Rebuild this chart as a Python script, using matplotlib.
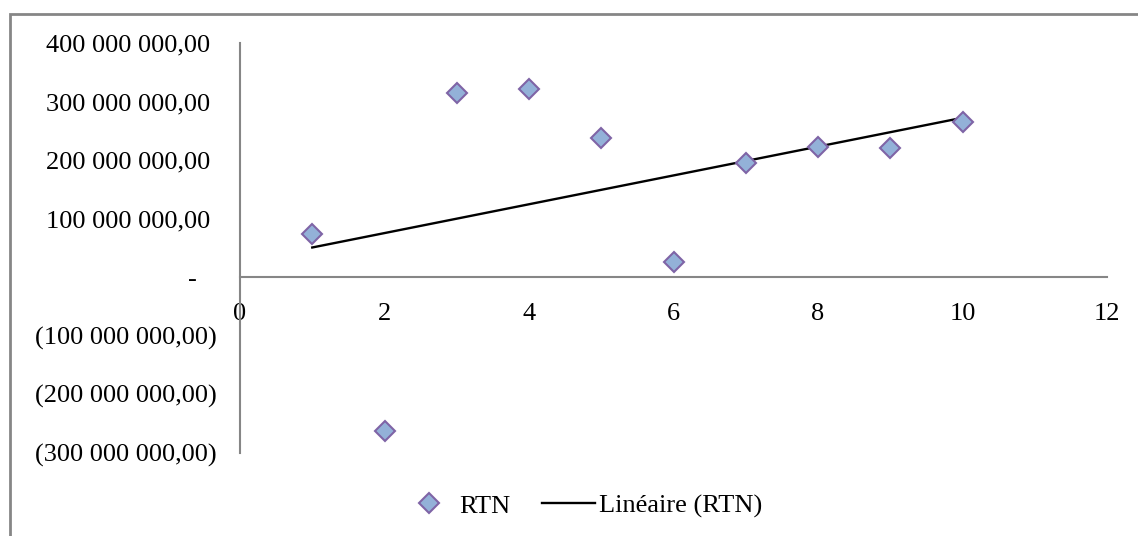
import numpy as np
import matplotlib.pyplot as plt
from matplotlib.patches import Rectangle
from matplotlib.lines import Line2D

plt.rcParams['font.family'] = ['Liberation Serif', 'DejaVu Serif']
plt.rcParams['font.size'] = 19

# RTN per period
periods = [1, 2, 3, 4, 5, 6, 7, 8, 9, 10]
rtn = [73e6, -264e6, 315e6, 322e6, 238e6, 26e6, 195e6, 222e6, 221e6, 265e6]

y_ticks = [400e6, 300e6, 200e6, 100e6, 0, -100e6, -200e6, -300e6]
y_labels = ['400 000 000,00 ', '300 000 000,00 ', '200 000 000,00 ', '100 000 000,00 ',
            '-   ', '(100 000 000,00)', '(200 000 000,00)', '(300 000 000,00)']
x_ticks = [0, 2, 4, 6, 8, 10, 12]

axis_grey = '#868686'
fill_blue = '#93B1D8'
edge_purple = '#7F64A6'

fig = plt.figure(figsize=(11.38, 5.36), dpi=100)
ax = fig.add_axes([240 / 1138, 1 - 452.5 / 536, (1107 - 240) / 1138, (452.5 - 43) / 536])

# outer chart frame (only left and top edges fall inside the canvas)
fig.patches.append(Rectangle((10 / 1138, -0.2), 1.2, 1 - 14 / 536 + 0.2,
                             transform=fig.transFigure, fill=False,
                             edgecolor=axis_grey, linewidth=2))

# linear trend line over the same periods
slope, intercept = np.polyfit(periods, rtn, 1)
xs = np.array([periods[0], periods[-1]])
ax.plot(xs, slope * xs + intercept, color='black', linewidth=1.7, zorder=2)

ax.plot(periods, rtn, linestyle='none', marker='D', markersize=10.5,
        markerfacecolor=fill_blue, markeredgecolor=edge_purple,
        markeredgewidth=1.5, zorder=3)

ax.set_xlim(0, 12)
ax.set_ylim(-300e6, 400e6)
ax.set_xticks(x_ticks)
ax.set_xticklabels([str(t) for t in x_ticks])
ax.set_yticks(y_ticks)
ax.set_yticklabels(y_labels)

ax.spines['bottom'].set_position(('data', 0))
ax.spines['left'].set_position(('data', 0))
for side in ['top', 'right']:
    ax.spines[side].set_visible(False)
for side in ['bottom', 'left']:
    ax.spines[side].set_color(axis_grey)
    ax.spines[side].set_linewidth(1.5)

ax.tick_params(axis='x', length=0, pad=19)
ax.tick_params(axis='y', length=0, pad=17)

handles = [
    Line2D([], [], linestyle='none', marker='D', markersize=10.5,
           markerfacecolor=fill_blue, markeredgecolor=edge_purple, markeredgewidth=1.5),
    Line2D([], [], color='black', linewidth=1.7),
]
fig.legend(handles, ['RTN', 'Linéaire (RTN)'], loc='center',
           bbox_to_anchor=(582 / 1138, 1 - 506 / 536), ncol=2, frameon=False,
           handlelength=2.0, handletextpad=0.15, columnspacing=1.2,
           borderpad=0, borderaxespad=0)

fig.savefig('out.png', dpi=100)
